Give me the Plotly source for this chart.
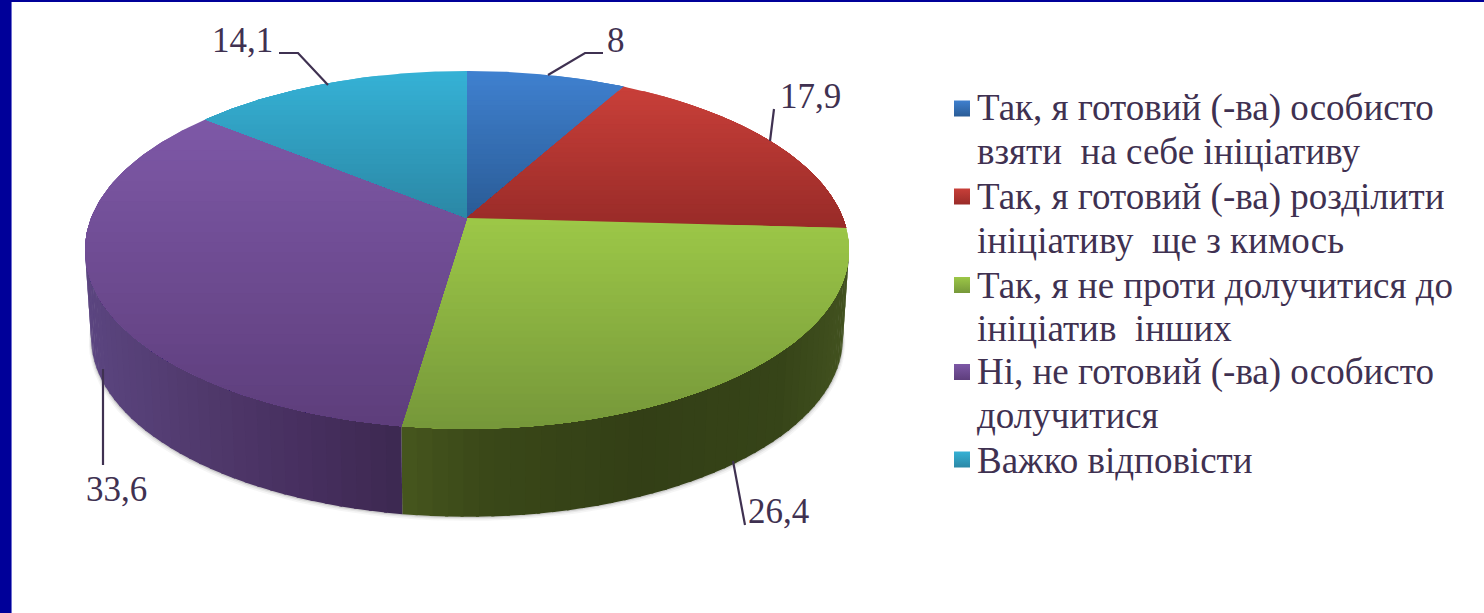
import numpy as np
import plotly.graph_objects as go

# --- data ---
values = [8, 17.9, 26.4, 33.6, 14.1]
value_labels = ["8", "17,9", "26,4", "33,6", "14,1"]
categories = [
    ["Так, я готовий (-ва) особисто", "взяти  на себе ініціативу"],
    ["Так, я готовий (-ва) розділити", "ініціативу  ще з кимось"],
    ["Так, я не проти долучитися до", "ініціатив  інших"],
    ["Ні, не готовий (-ва) особисто", "долучитися"],
    ["Важко відповісти"],
]

# --- styles ---
top_light = ["#3f80cf", "#c83f39", "#9cc747", "#7d58a6", "#35b1d5"]
top_dark = ["#2a5c96", "#992b28", "#76983a", "#5e3e7c", "#2b88a6"]
wall_stops = {  # colour of the side wall by screen x
    2: [(402, "#46561e"), (480, "#3a4818"), (640, "#333f16"), (780, "#364418"), (850, "#42521f")],
    3: [(85, "#5b4580"), (200, "#50396c"), (300, "#472f5f"), (405, "#3c2850")],
}
text_color = "#3f3151"
leader_color = "#3f3151"
font_family = "Liberation Serif, Times New Roman, serif"

# --- projection of the disc ---
CX, CY = 467.0, 218.0
K, B, C = 0.178, -134.5, 375.9
DEPTH, BOTTOM_SCALE = 88.0, 0.984


def project(theta_deg):
    t = np.radians(theta_deg)
    u, v = np.sin(t), np.cos(t)
    d = 1 + K * v
    return C * u / d, (CY + B * v) / d


def rim_top(theta_deg):
    dx, y = project(theta_deg)
    return CX + dx, y


def rim_bottom(theta_deg):
    dx, y = project(theta_deg)
    return CX + dx * BOTTOM_SCALE, y + DEPTH


def hex2rgb(h):
    return np.array([int(h[i:i + 2], 16) for i in (1, 3, 5)], float)


def mix(a, b, f):
    c = hex2rgb(a) * (1 - f) + hex2rgb(b) * f
    return "rgb(%d,%d,%d)" % tuple(np.round(c))


def stop_color(stops, x):
    xs = [s[0] for s in stops]
    rgb = np.array([hex2rgb(s[1]) for s in stops])
    return "rgb(%d,%d,%d)" % tuple(round(float(np.interp(x, xs, rgb[:, i]))) for i in range(3))


def clip_below(px, py, y0):
    """Keep the part of a polygon with y >= y0."""
    ox, oy = [], []
    n = len(px)
    for i in range(n):
        x1, y1, x2, y2 = px[i], py[i], px[(i + 1) % n], py[(i + 1) % n]
        if y1 >= y0:
            ox.append(x1); oy.append(y1)
        if (y1 >= y0) != (y2 >= y0):
            f = (y0 - y1) / (y2 - y1)
            ox.append(x1 + f * (x2 - x1)); oy.append(y0)
    return ox, oy


def poly(x, y, color):
    return go.Scatter(x=list(x), y=list(y), mode="lines", fill="toself", fillcolor=color,
                      line=dict(width=0), showlegend=False, hoverinfo="skip")


fig = go.Figure()
total = sum(values)
edges = np.concatenate([[0], np.cumsum(values)]) / total * 360.0
WALL_FROM, WALL_TO = 96.0, 266.0

# soft shadow under the wall
sh = np.arange(WALL_FROM - 6, WALL_TO + 6.1, 2.0)
bx, by = rim_bottom(sh)
tx, ty = rim_top(sh)
for off, alpha in ((4, 0.05), (2.5, 0.08), (1.2, 0.14)):
    fig.add_trace(poly(np.r_[bx + off * np.sign(bx - CX) * 0.6, tx[::-1]],
                       np.r_[by + off, ty[::-1]], "rgba(60,60,60,%.2f)" % alpha))

# side wall
for i in wall_stops:
    a, b = max(edges[i], WALL_FROM), min(edges[i + 1], WALL_TO)
    grid = np.linspace(a, b, int((b - a) / 2) + 2)
    for g0, g1 in zip(grid[:-1], grid[1:]):
        g1x = min(g1 + 0.4, b)
        x0t, y0t = rim_top(g0); x1t, y1t = rim_top(g1x)
        x0b, y0b = rim_bottom(g0); x1b, y1b = rim_bottom(g1x)
        fig.add_trace(poly([x0t, x1t, x1b, x0b], [y0t, y1t, y1b, y0b],
                           stop_color(wall_stops[i], (x0t + x1t) / 2)))

# top face: every wedge painted in vertical gradient bands
for i in range(len(values)):
    th = np.linspace(edges[i], edges[i + 1], 90)
    rx, ry = rim_top(th)
    px, py = [CX] + list(rx), [CY] + list(ry)
    y_min, y_max = min(py), max(py)
    bands = 30
    for j in range(bands):
        y0 = y_min + (y_max - y_min) * j / bands
        ox, oy = clip_below(px, py, y0)
        if len(ox) >= 3:
            fig.add_trace(poly(ox, oy, mix(top_light[i], top_dark[i], j / (bands - 1))))

# leader lines
leaders = [
    ([548, 585, 603], [75, 53, 53]),
    ([770, 774], [141, 109]),
    ([733, 745], [461, 525]),
    ([103, 103], [369, 465]),
    ([328, 298, 279], [85, 53, 53]),
]
for lx, ly in leaders:
    fig.add_trace(go.Scatter(x=lx, y=ly, mode="lines", line=dict(color=leader_color, width=2.2),
                             showlegend=False, hoverinfo="skip"))

# value labels
label_pos = [(616, 40.5), (810, 96), (778.5, 511.5), (116, 489), (242.5, 40.5)]
for txt, (lx, ly) in zip(value_labels, label_pos):
    fig.add_annotation(x=lx, y=ly, text=txt, showarrow=False, xanchor="center", yanchor="middle",
                       font=dict(family=font_family, size=35, color=text_color))

# legend: swatches and text lines
legend_rows = [[108, 151], [197, 240], [285, 328], [372, 415], [460]]
legend_swatch_y = [108.5, 196.5, 285, 372, 459.5]
for i, lines in enumerate(categories):
    fig.add_trace(go.Scatter(x=[962], y=[legend_swatch_y[i]], mode="markers",
                             name=" ".join(lines), showlegend=False, hoverinfo="skip",
                             marker=dict(symbol="square", size=16, color=top_light[i],
                                         gradient=dict(type="vertical", color=top_dark[i]))))
    for line, ly in zip(lines, legend_rows[i]):
        fig.add_annotation(x=976, y=ly, text=line, showarrow=False, xanchor="left", yanchor="middle",
                           xshift=-1, font=dict(family=font_family, size=37, color=text_color))

fig.update_layout(
    width=1484, height=613,
    margin=dict(l=0, r=0, t=0, b=0),
    paper_bgcolor="#ffffff", plot_bgcolor="#ffffff",
    showlegend=False,
    xaxis=dict(range=[0, 1484], visible=False, fixedrange=True),
    yaxis=dict(range=[613, 0], visible=False, fixedrange=True),
    shapes=[
        dict(type="rect", xref="paper", yref="paper", x0=0, x1=11 / 1484, y0=0, y1=1,
             fillcolor="#000099", line=dict(width=0), layer="above"),
        dict(type="rect", xref="paper", yref="paper", x0=11 / 1484, x1=12 / 1484, y0=0, y1=1,
             fillcolor="#7070d0", line=dict(width=0), layer="above"),
        dict(type="rect", xref="paper", yref="paper", x0=0, x1=1, y0=1 - 2 / 613, y1=1,
             fillcolor="#000099", line=dict(width=0), layer="above"),
    ],
)
fig.write_html("out.html", config=dict(displayModeBar=False),
               post_script="document.body.style.margin='0';document.body.style.overflow='hidden';")
